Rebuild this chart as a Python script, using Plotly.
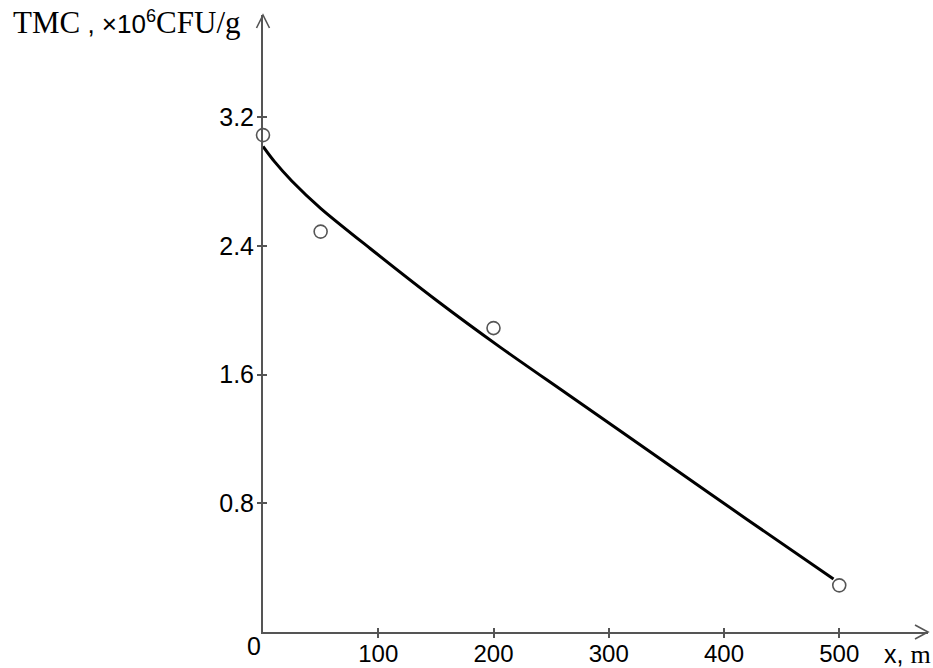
import plotly.graph_objects as go

# Measured points
meas_x = [0, 50, 200, 500]
meas_y = [3.09, 2.49, 1.89, 0.29]

# Fitted curve
curve_x = [0, 10, 25, 50, 93, 151, 206, 264, 356, 420, 495]
curve_y = [3.02, 2.925, 2.805, 2.635, 2.385, 2.06, 1.77, 1.48, 1.02, 0.70, 0.33]

x_ticks = [100, 200, 300, 400, 500]
y_ticks = [0.8, 1.6, 2.4, 3.2]
y_tick_text = ["0.8", "1.6", "2.4", "3.2"]

X_MAX = 577
Y_MAX = 3.837
AX = "#555555"
SANS = "Liberation Sans"
SERIF = "Liberation Serif"

fig = go.Figure()
fig.add_trace(go.Scatter(x=curve_x, y=curve_y, mode="lines",
                         line=dict(color="black", width=3, shape="spline", smoothing=0.8),
                         hoverinfo="skip", showlegend=False))
fig.add_trace(go.Scatter(x=meas_x, y=meas_y, mode="markers",
                         marker=dict(symbol="circle", size=13, color="white",
                                     line=dict(color="#555555", width=1.6)),
                         showlegend=False, cliponaxis=False))

common_x = dict(range=[0, X_MAX], showgrid=False, zeroline=False,
                tickvals=x_ticks, ticklen=4, tickwidth=1.5, tickcolor=AX)
common_y = dict(range=[0, Y_MAX], showgrid=False, zeroline=False,
                tickvals=y_ticks, ticklen=4, tickwidth=1.5, tickcolor=AX)

fig.update_layout(
    width=933, height=668,
    margin=dict(l=263, r=5, t=15, b=36, autoexpand=False),
    paper_bgcolor="white", plot_bgcolor="white",
    xaxis=dict(**common_x, ticks="outside", showline=True, linecolor=AX, linewidth=2,
               ticktext=[str(v) for v in x_ticks], ticklabelstandoff=-5,
               tickfont=dict(family=SANS, size=24, color="black")),
    yaxis=dict(**common_y, ticks="outside", showline=True, linecolor=AX, linewidth=2,
               ticktext=y_tick_text, ticklabelstandoff=-2,
               tickfont=dict(family=SANS, size=25, color="black")),
    xaxis2=dict(**common_x, overlaying="x", ticks="inside", showticklabels=False,
                showline=False, side="bottom", anchor="y"),
    yaxis2=dict(**common_y, overlaying="y", ticks="inside", showticklabels=False,
                showline=False, side="left", anchor="x"),
)
fig.add_trace(go.Scatter(x=[None], y=[None], xaxis="x2", yaxis="y2", showlegend=False,
                         hoverinfo="skip"))

# axis arrowheads (open chevrons)
fig.add_shape(type="path", xref="paper", yref="paper", xsizemode="pixel", ysizemode="pixel",
              xanchor=0, yanchor=1, path="M -6.5 -13 L 0 0 L 6.5 -13",
              line=dict(color=AX, width=1.6))
fig.add_shape(type="path", xref="paper", yref="paper", xsizemode="pixel", ysizemode="pixel",
              xanchor=1, yanchor=0, path="M -13 7 L 0 0 L -13 -7",
              line=dict(color=AX, width=1.6))

# origin label
fig.add_annotation(x=0, y=0, xref="x", yref="y", text="0", showarrow=False,
                   xanchor="right", yanchor="top", xshift=0, yshift=2,
                   font=dict(family=SANS, size=25, color="black"))

# y-axis title
fig.add_annotation(xref="paper", yref="paper", x=(11 - 263) / 665, y=1.0,
                   xanchor="left", yanchor="top", yshift=12, showarrow=False,
                   text=(f'<span style="font-family:{SERIF};font-size:31px">TMC</span>'
                         f' , ×10<sup>6</sup>'
                         f'<span style="font-family:{SERIF};font-size:31px">CFU/g</span>'),
                   font=dict(family=SANS, size=26, color="black"))

# x-axis title
fig.add_annotation(xref="paper", yref="paper", x=1.0, y=0, xanchor="right", yanchor="top",
                   yshift=-6, xshift=5, showarrow=False,
                   text=f'x, <span style="font-family:{SERIF};font-size:26px">m</span>',
                   font=dict(family=SANS, size=25, color="black"))

fig.write_html("out.html", config={"displayModeBar": False},
               post_script="document.body.style.margin='0';")
